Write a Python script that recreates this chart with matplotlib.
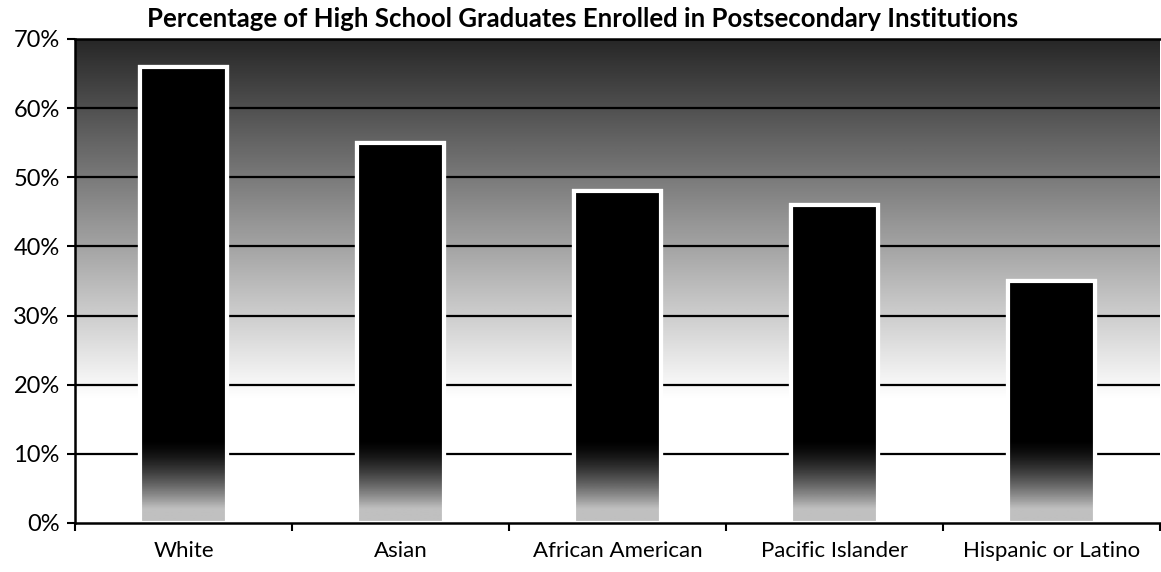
import matplotlib.pyplot as plt
import numpy as np
from matplotlib.ticker import FuncFormatter

categories = ["White", "Asian", "African American", "Pacific Islander", "Hispanic or Latino"]
values = [66, 55, 48, 46, 35]
title = "Percentage of High School Graduates Enrolled in Postsecondary Institutions"

plt.rcParams['font.family'] = ['Lato', 'DejaVu Sans']

fig = plt.figure(figsize=(11.61, 5.72), dpi=100)
ax = fig.add_axes([0.0646, 0.0857, 0.9345, 0.8463])

x = np.arange(len(categories))
ax.set_xlim(-0.5, len(categories) - 0.5)
ax.set_ylim(0, 70)

# background gradient: nearly black at top, white below ~20%
yy = np.linspace(0, 70, 300)
shade = np.clip(1.0 - (yy - 18) / 52 * 0.85, 0.15, 1.0)
bg = np.repeat(shade[:, None], 2, axis=1)
ax.imshow(bg, cmap='gray', vmin=0, vmax=1, aspect='auto', origin='lower',
          extent=(-0.5, len(categories) - 0.5, 0, 70), zorder=0)

# grid lines
for g in range(10, 70, 10):
    ax.axhline(g, color='black', lw=1.6, zorder=1)

# bars: black with a lighter bottom, white outline
bars = ax.bar(x, values, width=0.4, color='black', edgecolor='white', linewidth=3, zorder=2)
bar_shade = np.clip((yy - 2) / 10, 0, 1)
bar_img = np.repeat((0.75 * (1 - bar_shade) ** 1.5)[:, None], 2, axis=1)
for b in bars:
    im = ax.imshow(bar_img, cmap='gray', vmin=0, vmax=1, aspect='auto', origin='lower',
                   extent=(-0.5, len(categories) - 0.5, 0, 70), zorder=3)
    im.set_clip_path(b)
    outline = plt.Rectangle(b.get_xy(), b.get_width(), b.get_height(), fill=False,
                            edgecolor='white', lw=3, zorder=4)
    ax.add_patch(outline)

ax.set_xlim(-0.5, len(categories) - 0.5)
ax.set_ylim(0, 70)

ax.set_yticks(range(0, 80, 10))
ax.yaxis.set_major_formatter(FuncFormatter(lambda v, _: f"{int(v)}%"))
ax.set_xticks(x)
ax.set_xticklabels(categories)
ax.set_xticks(np.arange(-0.5, len(categories)), minor=True)
ax.tick_params(axis='x', which='major', length=0, labelsize=16, pad=13)
ax.tick_params(axis='x', which='minor', length=6, width=1.5, direction='out')
ax.tick_params(axis='y', length=6, width=1.5, labelsize=17, pad=5)

for s in ['left', 'bottom']:
    ax.spines[s].set_linewidth(1.8)
    ax.spines[s].set_zorder(5)
ax.spines['top'].set_linewidth(1.8)
ax.spines['right'].set_visible(False)

fig.text(0.502, 0.966, title, ha='center', va='center', fontsize=18.5, fontweight='bold')

fig.savefig("out.png", dpi=100)
